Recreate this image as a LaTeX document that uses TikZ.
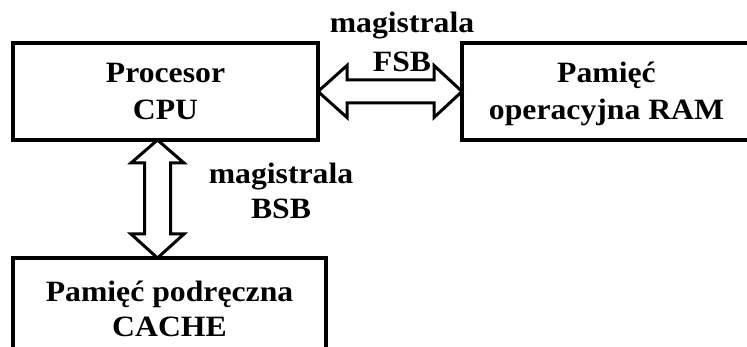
\documentclass[tikz,border=0pt]{standalone}
\usepackage{fontspec}
\setmainfont{Liberation Serif}[FakeStretch=1.075]
\usetikzlibrary{calc,backgrounds}
\begin{document}
\begin{tikzpicture}[x=1pt,y=-1pt,
  box/.style={draw, line width=4pt, rectangle, inner sep=0pt, outer sep=0pt, align=center, text depth=0pt},
  lbl/.style={align=center, inner sep=0pt, anchor=base},
  bus/.style={draw, line width=3pt, line join=miter, fill=white},
  every node/.style={font=\fontsize{29.5}{36.7}\selectfont\bfseries}
]
\useasboundingbox (0,0) rectangle (747,347);
\node[box, minimum width=305pt, minimum height=97pt, text height=56.2pt] (cpu) at (165.5,91.5) {Procesor\\CPU};
\node[box, minimum width=289pt, minimum height=97pt, text height=56.2pt] (ram) at (606.5,91.5) {Pamięć\\operacyjna RAM};
\node[box, minimum width=313pt, minimum height=103pt, text height=54.5pt, font=\fontsize{29.5}{35}\selectfont\bfseries] (cache) at (169.5,309.5) {Pamięć podręczna\\CACHE};
\node[lbl, font=\fontsize{29.5}{39}\selectfont\bfseries] (fsb) at (402,71.7) {magistrala\\FSB};
\node[lbl, font=\fontsize{29.5}{35}\selectfont\bfseries] (bsb) at (281,218.3) {magistrala\\BSB};
\coordinate (bt) at ($(cpu.south)+(-8,0)$);
\coordinate (bb) at (bt |- cache.north);
\begin{pgfonlayer}{background}
\draw[bus] (cpu.east) -- ++(29,-26) -- ++(0,14.5) -- ($(ram.west)+(-28,-11.5)$) -- ++(0,-14.5) -- (ram.west) -- ++(-28,26) -- ++(0,-14.5) -- ($(cpu.east)+(29,11.5)$) -- ++(0,14.5) -- cycle;
\draw[bus] (bt) -- ++(26.5,23) -- ++(-13.5,0) -- ($(bb)+(13,-24)$) -- ++(13.5,0) -- (bb) -- ++(-26.5,-24) -- ++(13.5,0) -- ($(bt)+(-13,23)$) -- ++(-13.5,0) -- cycle;
\end{pgfonlayer}
\end{tikzpicture}
\end{document}
